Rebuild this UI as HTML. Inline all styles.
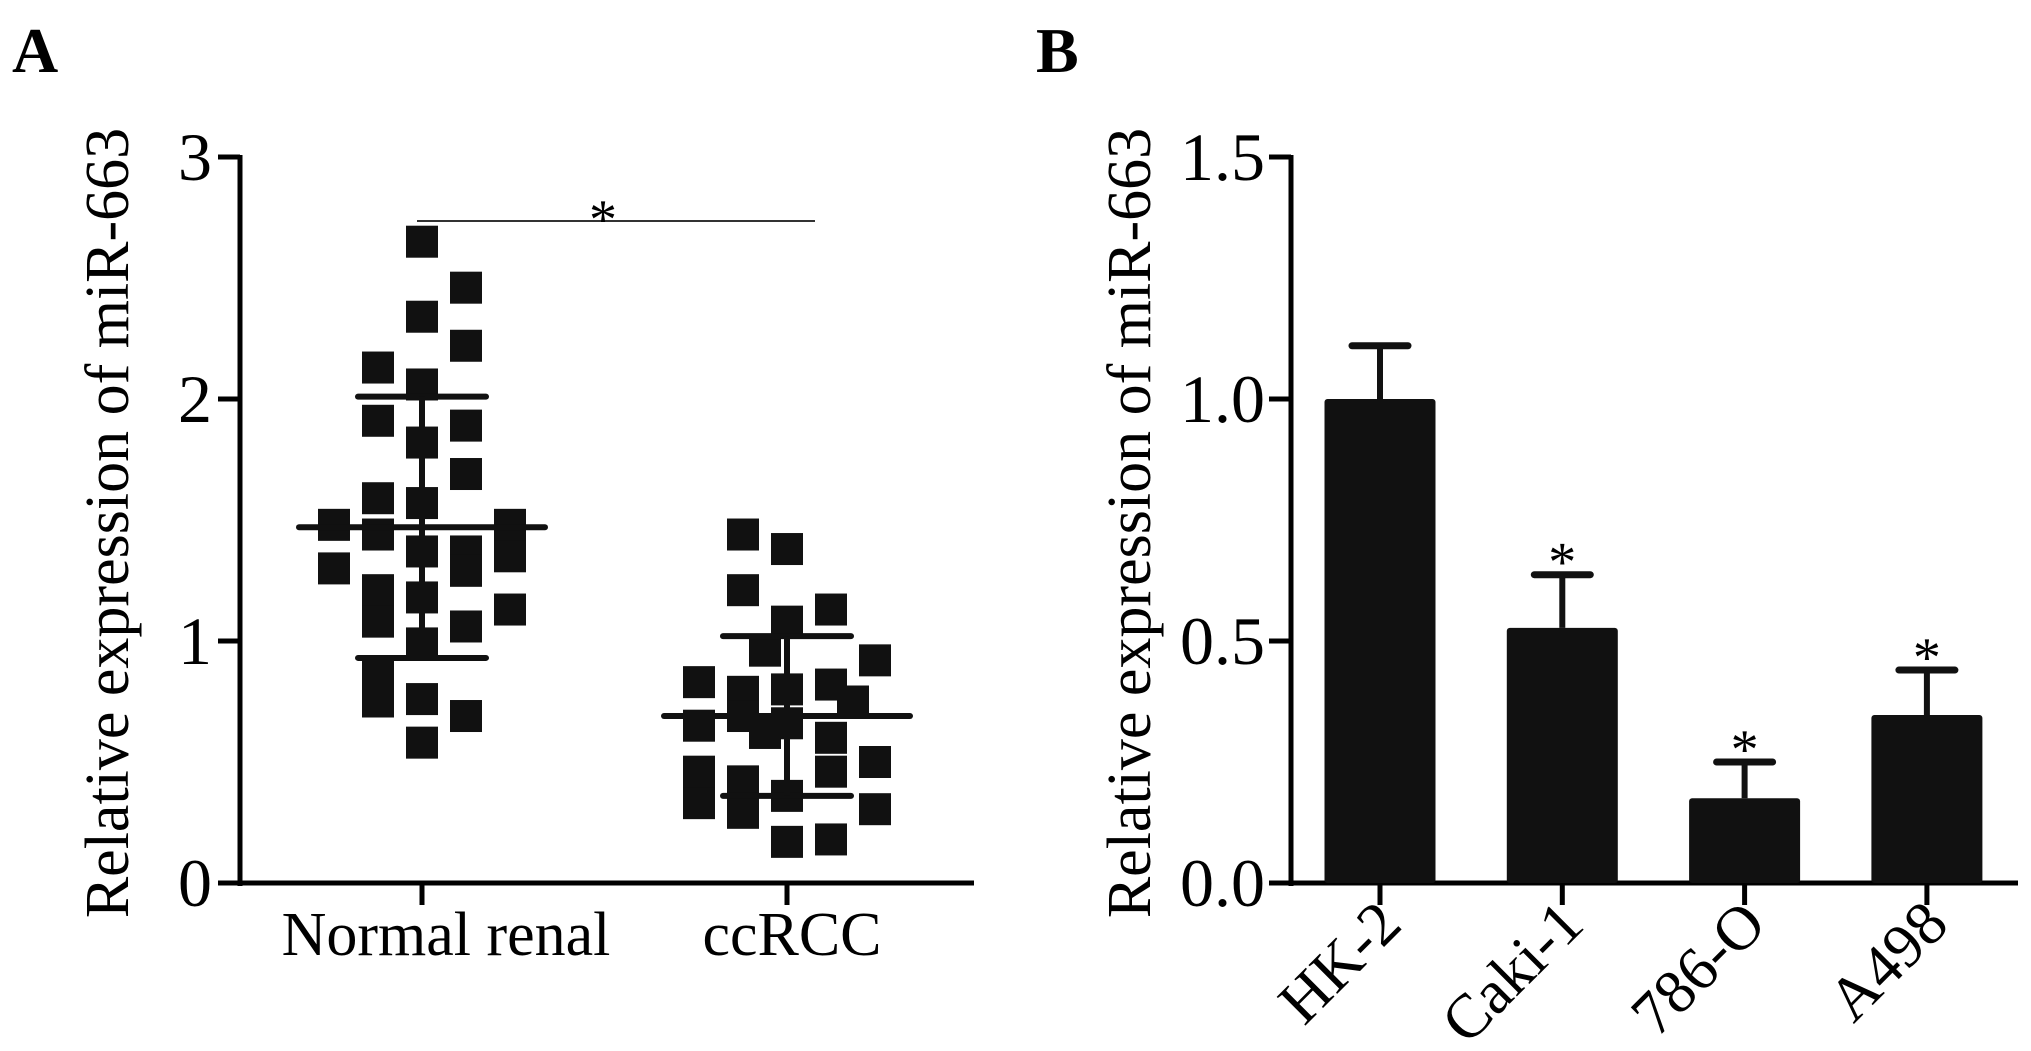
<!DOCTYPE html>
<html><head><meta charset="utf-8"><style>
html,body{margin:0;padding:0;background:#fff;}
svg{display:block;font-family:"Liberation Serif",serif;}
</style></head><body>
<svg id="fig" width="2031" height="1051" viewBox="0 0 2031 1051"></svg>
<script>
// Panel A data
const groupsA = ["Normal renal", "ccRCC"];
const normalVals = [2.65,2.46,2.34,2.22,2.13,2.06,1.91,1.89,1.82,1.69,1.59,1.57,1.48,1.44,1.48,1.37,1.37,1.35,1.30,1.29,1.21,1.18,1.13,1.08,1.06,0.99,0.875,0.75,0.76,0.69,0.58];
const normalCol  = [0,1,0,1,-1,0,-1,1,0,1,-1,0,-2,-1,2,0,1,2,-2,1,-1,0,2,-1,1,0,-1,-1,0,1,0];
const ccVals = [1.44,1.38,1.21,1.13,1.08,0.96,0.92,0.83,0.79,0.80,0.82,0.75,0.65,0.69,0.66,0.60,0.62,0.50,0.46,0.42,0.46,0.36,0.33,0.29,0.305,0.17,0.18];
const ccCol  = [-1,0,-1,1,0,-0.5,2,-2,-1,0,1,1.5,-2,-1,0,1,-0.5,2,-2,-1,1,0,-2,-1,2,0,1];
const meanA = [1.47, 0.69];
const sdA = [0.54, 0.33];
const ticksA = [0,1,2,3];
// Panel B data
const cellLines = ["HK-2","Caki-1","786-O","A498"];
const barVals = [1.0, 0.527, 0.175, 0.347];
const barErr = [0.11, 0.11, 0.075, 0.093];
const barSig = [false, true, true, true];
const ticksB = ["0.0","0.5","1.0","1.5"];

const svg = document.getElementById('fig');
const NS = "http://www.w3.org/2000/svg";
function mk(tag, attrs, parent){const e=document.createElementNS(NS,tag);for(const k in attrs)e.setAttribute(k,attrs[k]);(parent||svg).appendChild(e);return e;}

const y0 = 883, yTop = 157;
function yA(v){return y0 - v*(y0-yTop)/3;}
function yB(v){return y0 - v*(y0-yTop)/1.5;}
const xA = i => [422,787][i];
const xB = i => 1380 + i*182.3;

// Panel labels
let t = mk('text',{x:12,y:72,'font-size':64,'font-weight':'bold'}); t.textContent='A';
 
t = mk('text',{x:1036,y:72,'font-size':64,'font-weight':'bold'}); t.textContent='B';
 

// ---- Panel A ----
const gA = mk('g',{});
 
mk('line',{x1:240,y1:yTop-2,x2:240,y2:y0+3,stroke:'#000','stroke-width':5},gA);
mk('line',{x1:218,y1:y0,x2:974,y2:y0,stroke:'#000','stroke-width':5},gA);
ticksA.forEach(v=>{
  mk('line',{x1:218,y1:yA(v),x2:240,y2:yA(v),stroke:'#000','stroke-width':5},gA);
  const tx=mk('text',{x:212,y:yA(v)+23,'font-size':68,'text-anchor':'end'},gA); tx.textContent=v;
   
});
groupsA.forEach((g,i)=>{
  mk('line',{x1:xA(i),y1:y0,x2:xA(i),y2:y0+22,stroke:'#000','stroke-width':5},gA);
  const tx=mk('text',{x:[446,792][i],y:955,'font-size':62,'text-anchor':'middle'},gA); tx.textContent=g;
   
});
let yt = mk('text',{x:0,y:0,'font-size':62,'text-anchor':'middle',transform:'translate(128,523) rotate(-90)'},gA);
yt.textContent='Relative expression of miR-663';
 

const sq = 32, colW = 44;
function drawPts(vals, cols, gi, name){
  vals.forEach((v,k)=>{
    const r=mk('rect',{x:xA(gi)+cols[k]*colW-sq/2,y:yA(v)-sq/2,width:sq,height:sq,fill:'#111'},gA);
     
  });
}
drawPts(normalVals, normalCol, 0, 'normal-point');
drawPts(ccVals, ccCol, 1, 'ccrcc-point');
meanA.forEach((m,i)=>{
  const x=xA(i);
  mk('line',{x1:x-123,y1:yA(m),x2:x+123,y2:yA(m),stroke:'#111','stroke-width':6,'stroke-linecap':'round'},gA);
  mk('line',{x1:x-64,y1:yA(m+sdA[i]),x2:x+64,y2:yA(m+sdA[i]),stroke:'#111','stroke-width':6,'stroke-linecap':'round'},gA);
  mk('line',{x1:x-64,y1:yA(m-sdA[i]),x2:x+64,y2:yA(m-sdA[i]),stroke:'#111','stroke-width':6,'stroke-linecap':'round'},gA);
  mk('line',{x1:x,y1:yA(m+sdA[i]),x2:x,y2:yA(m-sdA[i]),stroke:'#111','stroke-width':6},gA);
});
mk('line',{x1:417,y1:221,x2:815,y2:221,stroke:'#333','stroke-width':2},gA);
t=mk('text',{x:603,y:238,'font-size':56,'text-anchor':'middle'},gA); t.textContent='*';
 

// ---- Panel B ----
const gB = mk('g',{});
 
mk('line',{x1:1291,y1:yTop-2,x2:1291,y2:y0+3,stroke:'#000','stroke-width':5},gB);
mk('line',{x1:1269,y1:y0,x2:2018,y2:y0,stroke:'#000','stroke-width':5},gB);
ticksB.forEach(s=>{
  const v=parseFloat(s);
  mk('line',{x1:1269,y1:yB(v),x2:1291,y2:yB(v),stroke:'#000','stroke-width':5},gB);
  const tx=mk('text',{x:1265,y:yB(v)+23,'font-size':68,'text-anchor':'end'},gB); tx.textContent=s;
   
});
yt = mk('text',{x:0,y:0,'font-size':62,'text-anchor':'middle',transform:'translate(1150,523) rotate(-90)'},gB);
yt.textContent='Relative expression of miR-663';
 

const bw = 111;
cellLines.forEach((c,i)=>{
  const x=xB(i), v=barVals[i], e=barErr[i];
  mk('line',{x1:x,y1:yB(v),x2:x,y2:yB(v+e),stroke:'#111','stroke-width':6},gB);
  mk('line',{x1:x-28,y1:yB(v+e),x2:x+28,y2:yB(v+e),stroke:'#111','stroke-width':7,'stroke-linecap':'round'},gB);
  const r=mk('rect',{x:x-bw/2,y:yB(v),width:bw,height:y0-yB(v),fill:'#111',rx:3},gB);
   
  if(barSig[i]){
    const s=mk('text',{x:x,y:yB(v+e)+6,'font-size':56,'text-anchor':'middle'},gB); s.textContent='*';
     
  }
  mk('line',{x1:x,y1:y0,x2:x,y2:y0+22,stroke:'#000','stroke-width':5},gB);
  const tx=mk('text',{x:0,y:0,'font-size':62,'text-anchor':'end',transform:`translate(${x+24},${y0+44}) rotate(-45)`},gB);
  tx.textContent=c;
   
});
</script>
</body></html>
